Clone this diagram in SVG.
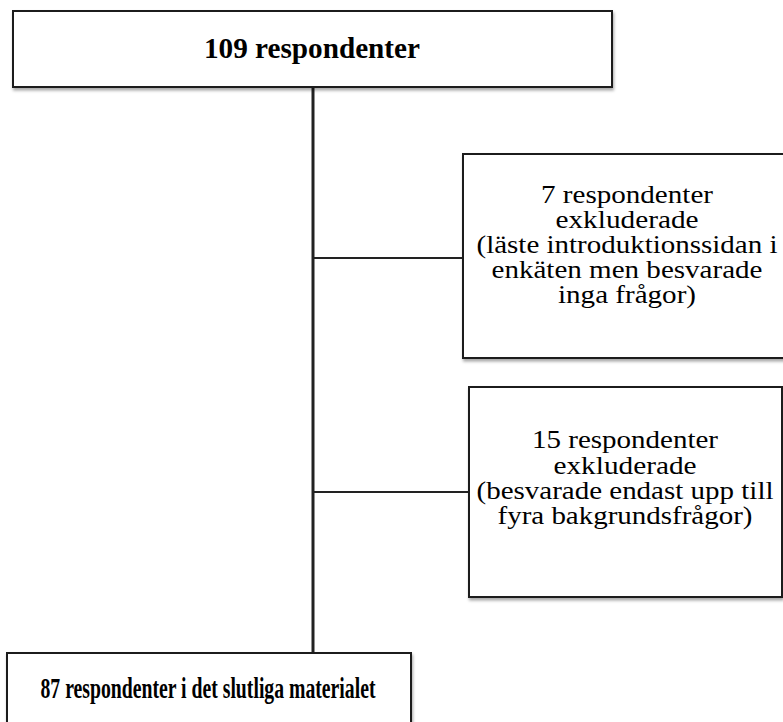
<svg xmlns="http://www.w3.org/2000/svg" width="783" height="722" viewBox="0 0 783 722">
<style>
.box{fill:#fff;stroke:#1a1a1a;stroke-width:2;filter:url(#sh)}
.t{font-family:"Liberation Serif","Times New Roman",serif;fill:#000;text-anchor:middle}
.b{font-weight:bold}
.m{font-size:25px}
.conn{stroke:#222;fill:none}
</style>
<defs>
<filter id="sh" x="-5%" y="-5%" width="115%" height="125%">
<feDropShadow dx="1" dy="2.5" stdDeviation="1.5" flood-color="#000" flood-opacity="0.35"/>
</filter>
</defs>
<rect width="783" height="722" fill="#fff"/>
<g id="connectors">
<line class="conn" x1="313" y1="87" x2="313" y2="653" stroke-width="3" stroke="#000"/>
<line class="conn" x1="313" y1="258" x2="463" y2="258" stroke-width="2"/>
<line class="conn" x1="313" y1="492" x2="469" y2="492" stroke-width="2"/>
</g>
<g id="n1">
<rect class="box" x="13" y="11" width="599" height="76"/>
<text class="t b" x="312" y="58" font-size="30" textLength="216" lengthAdjust="spacingAndGlyphs">109 respondenter</text>
</g>
<g id="n2">
<rect class="box" x="463" y="154" width="330" height="204"/>
<text class="t m" x="627" y="203" textLength="172" lengthAdjust="spacingAndGlyphs">7 respondenter</text>
<text class="t m" x="627" y="228" textLength="143" lengthAdjust="spacingAndGlyphs">exkluderade</text>
<text class="t m" x="627" y="253" textLength="301" lengthAdjust="spacingAndGlyphs">(läste introduktionssidan i</text>
<text class="t m" x="627" y="278" textLength="271" lengthAdjust="spacingAndGlyphs">enkäten men besvarade</text>
<text class="t m" x="627" y="303" textLength="138" lengthAdjust="spacingAndGlyphs">inga frågor)</text>
</g>
<g id="n3">
<rect class="box" x="469" y="387" width="313" height="210"/>
<text class="t m" x="625" y="448" textLength="186" lengthAdjust="spacingAndGlyphs">15 respondenter</text>
<text class="t m" x="625" y="474" textLength="143" lengthAdjust="spacingAndGlyphs">exkluderade</text>
<text class="t m" x="625" y="499" textLength="297" lengthAdjust="spacingAndGlyphs">(besvarade endast upp till</text>
<text class="t m" x="625" y="524" textLength="255" lengthAdjust="spacingAndGlyphs">fyra bakgrundsfrågor)</text>
</g>
<g id="n4">
<rect class="box" x="7" y="653" width="404" height="90"/>
<text class="t b" x="208" y="698" font-size="30" textLength="335" lengthAdjust="spacingAndGlyphs">87 respondenter i det slutliga materialet</text>
</g>
</svg>
